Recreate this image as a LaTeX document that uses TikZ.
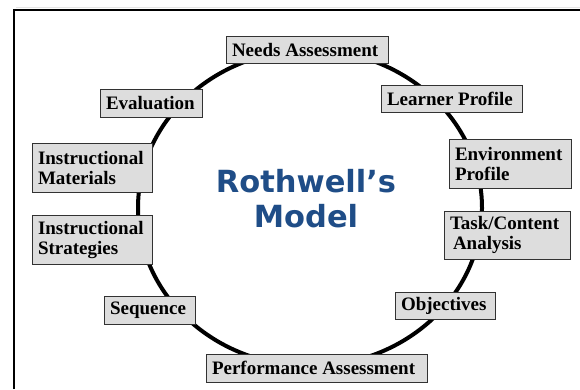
\documentclass[tikz,border=0pt]{standalone}
\usepackage{fontspec}
\setmainfont{Liberation Serif}
\newfontfamily\titlefont{DejaVu Sans}
\definecolor{boxfill}{RGB}{221,221,221}
\definecolor{boxline}{RGB}{50,50,50}
\definecolor{titleblue}{RGB}{31,77,135}
\begin{document}
\begin{tikzpicture}[x=1pt,y=-1pt,
  stage/.style={draw=boxline,fill=boxfill,line width=1pt,rectangle,
    inner xsep=6pt,inner ysep=0pt,align=left,
    font=\fontsize{19}{20}\selectfont\bfseries},
  cycle/.style={line width=4pt,black},
  frame/.style={line width=2pt,black}]
\useasboundingbox (0,0) rectangle (580,389);
% outer frame (open to the right and bottom)
\draw[gray!20,line width=0.8pt] (16,7.5) -- (580,7.5);
\draw[frame] (14,389) -- (14,10) -- (580,10);
% the cycle
\draw[cycle] (310,208) ellipse [x radius=172, y radius=158];
% title
\node[font=\titlefont\bfseries\fontsize{30.5}{35}\selectfont,text=titleblue,
  align=center,inner sep=0pt] (title) at (306,199) {Rothwell’s\\Model};
% stages
\node[stage,minimum height=27pt] (needs) at (307,49.5) {\makebox[150pt][l]{Needs Assessment}};
\node[stage,minimum height=27pt] (learner) at (451.5,98.5) {\makebox[129pt][l]{Learner Profile}};
\node[stage,minimum height=49pt] (env) at (510,163.5) {\makebox[110pt][l]{Environment}\\Profile};
\node[stage,minimum height=48pt] (task) at (507,235) {\makebox[114pt][l]{Task/Content}\\\hspace{3pt}Analysis};
\node[stage,minimum height=27pt] (obj) at (445,305.5) {\makebox[88pt][l]{Objectives}};
\node[stage,minimum height=28pt] (perf) at (316.5,368) {\makebox[209pt][l]{Performance Assessment}};
\node[stage,minimum height=28pt] (seq) at (149.5,310) {\makebox[79pt][l]{Sequence}};
\node[stage,minimum height=49pt] (strat) at (92,239.5) {\makebox[108pt][l]{Instructional}\\Strategies};
\node[stage,minimum height=49pt] (mat) at (92,167.5) {\makebox[108pt][l]{Instructional}\\Materials};
\node[stage,minimum height=28pt] (eval) at (151,103) {\makebox[90pt][l]{Evaluation}};
\end{tikzpicture}
\end{document}
